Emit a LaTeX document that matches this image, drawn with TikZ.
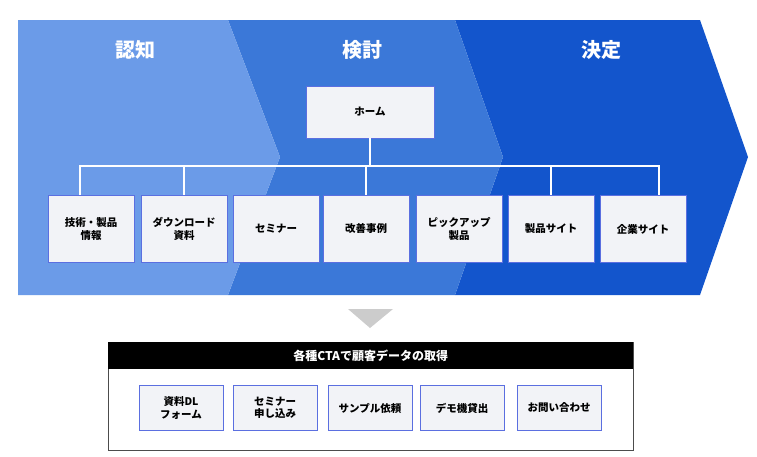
\documentclass[tikz,border=0pt]{standalone}
\usepackage{fontspec}
\setmainfont{Noto Sans CJK JP}
\usetikzlibrary{positioning}
\definecolor{bandA}{HTML}{6B9BE8}
\definecolor{bandB}{HTML}{3B78D8}
\definecolor{bandC}{HTML}{1355CC}
\definecolor{boxfill}{HTML}{F2F3F7}
\definecolor{boxline}{HTML}{5B6FE0}
\tikzset{
	stage/.append style={
		text=white,
		font={\fontsize{20}{24}\selectfont\bfseries},
	},
	page/.append style={
		draw=boxline,
		fill=boxfill,
		line width=0.8pt,
		align=center,
		minimum width=86pt,
		minimum height=67pt,
		inner sep=1pt,
		font={\fontsize{10.5}{12.5}\selectfont\bfseries},
	},
	cta/.append style={
		page,
		minimum width=84pt,
		minimum height=45pt,
	},
}
\begin{document}
\begin{tikzpicture}[x=1pt,y=-1pt,
	tree/.style = {draw=white, line width=1.2pt}
	]
	\useasboundingbox (0,0) rectangle (757,456);
	% stages
	\fill[bandC] (455,20) -- (700,20) -- (748,157) -- (700,295) -- (455,295) -- (503,157) -- cycle;
	\fill[bandB] (228,20) -- (455,20) -- (503,157) -- (455,295) -- (228,295) -- (280,157) -- cycle;
	\fill[bandA] (18,20) -- (228,20) -- (280,157) -- (228,295) -- (18,295) -- cycle;
	\node[stage] (aware) at (135,50) {認知};
	\node[stage] (consider) at (362,50) {検討};
	\node[stage] (decide) at (601,50) {決定};
	
	\node[page, minimum width=128pt, minimum height=52pt] (home) at (370,112) {ホーム};
	\node[page] (tech) at (91,229) {技術・製品\\情報};
	\node[page] (dl) at (184,229) {ダウンロード\\資料};
	\node[page] (seminar) at (276,229) {セミナー};
	\node[page] (cases) at (366,229) {改善事例};
	\node[page] (pickup) at (459,229) {ピックアップ\\製品};
	\node[page] (product) at (551,229) {製品サイト};
	\node[page] (corp) at (643,229) {企業サイト};
	
	\coordinate (hub) at (home.south |- 0,166);
	\draw[tree] (home.south) -- (hub);
	\draw[tree] ([xshift=-11pt]tech.north) |- (product.north |- hub) -- (product.north);
	\draw[tree] (dl.north) -- (dl.north |- hub);
	\draw[tree] (cases.north) -- (cases.north |- hub);
	\draw[tree] (product.north |- hub) -| ([xshift=16pt]corp.north);
	
	% data capture
	\fill[black!20] (348,309) -- (393,309) -- (370,328) -- cycle;
	\node[draw=black!70, line width=0.8pt, minimum width=525pt, minimum height=108pt, anchor=north west] (frame) at (108,342) {};
	\node[fill=black, text=white, minimum width=525pt, minimum height=27pt, anchor=north west,
		font={\fontsize{12}{14}\selectfont\bfseries}] (title) at (108,342) {各種CTAで顧客データの取得};
	\node[cta] (form) at (181,408) {資料DL\\フォーム};
	\node[cta] (apply) at (275,408) {セミナー\\申し込み};
	\node[cta] (sample) at (370,408) {サンプル依頼};
	\node[cta] (demo) at (462,408) {デモ機貸出};
	\node[cta] (contact) at (559,408) {お問い合わせ};
\end{tikzpicture}
\end{document}
